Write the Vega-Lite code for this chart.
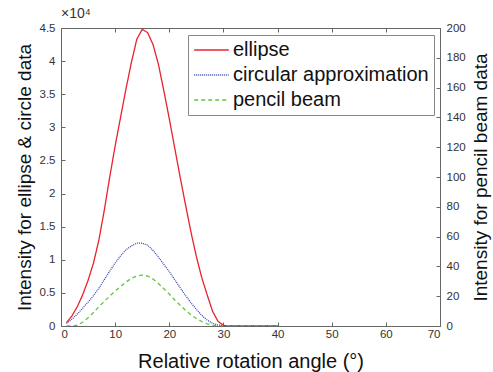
{
  "$schema": "https://vega.github.io/schema/vega-lite/v6.json",
  "autosize": "none",
  "width": 379,
  "height": 298,
  "padding": {"left": 61, "top": 28, "right": 53, "bottom": 46},
  "background": "white",
  "config": {
    "font": "Liberation Sans",
    "view": {"stroke": "#666", "strokeWidth": 1},
    "axis": {"grid": false, "domainColor": "#666", "tickColor": "#666", "labelColor": "#333", "titleColor": "#111", "labelFontSize": 11.5, "titleFontSize": 19, "titleFontWeight": "normal", "tickSize": -4, "labelPadding": 10}
  },
  "title": {"text": "×10⁴", "anchor": "start", "frame": "group", "fontSize": 14, "fontWeight": "normal", "color": "#333", "offset": 1},
  "data": {"values": [
    {"angle": 1, "series": "ellipse", "v": 500}, {"angle": 2, "series": "ellipse", "v": 1500}, {"angle": 3, "series": "ellipse", "v": 2900}, {"angle": 4, "series": "ellipse", "v": 4700}, {"angle": 5, "series": "ellipse", "v": 6900}, {"angle": 6, "series": "ellipse", "v": 9500}, {"angle": 7, "series": "ellipse", "v": 13000}, {"angle": 8, "series": "ellipse", "v": 17500}, {"angle": 9, "series": "ellipse", "v": 22500}, {"angle": 10, "series": "ellipse", "v": 27200}, {"angle": 11, "series": "ellipse", "v": 31500}, {"angle": 12, "series": "ellipse", "v": 35800}, {"angle": 13, "series": "ellipse", "v": 39800}, {"angle": 14, "series": "ellipse", "v": 43300}, {"angle": 15, "series": "ellipse", "v": 44800}, {"angle": 16, "series": "ellipse", "v": 44300}, {"angle": 17, "series": "ellipse", "v": 42500}, {"angle": 18, "series": "ellipse", "v": 39500}, {"angle": 19, "series": "ellipse", "v": 35500}, {"angle": 20, "series": "ellipse", "v": 31300}, {"angle": 21, "series": "ellipse", "v": 26900}, {"angle": 22, "series": "ellipse", "v": 22500}, {"angle": 23, "series": "ellipse", "v": 18300}, {"angle": 24, "series": "ellipse", "v": 14200}, {"angle": 25, "series": "ellipse", "v": 10500}, {"angle": 26, "series": "ellipse", "v": 7300}, {"angle": 27, "series": "ellipse", "v": 4700}, {"angle": 28, "series": "ellipse", "v": 2200}, {"angle": 29, "series": "ellipse", "v": 700}, {"angle": 30, "series": "ellipse", "v": 100}, {"angle": 31, "series": "ellipse", "v": 0}, {"angle": 32, "series": "ellipse", "v": 0}, {"angle": 33, "series": "ellipse", "v": 0}, {"angle": 34, "series": "ellipse", "v": 0}, {"angle": 35, "series": "ellipse", "v": 0}, {"angle": 36, "series": "ellipse", "v": 0}, {"angle": 37, "series": "ellipse", "v": 0}, {"angle": 38, "series": "ellipse", "v": 0}, {"angle": 39, "series": "ellipse", "v": 0}, {"angle": 40, "series": "ellipse", "v": 0},
    {"angle": 1, "series": "circular approximation", "v": 400}, {"angle": 2, "series": "circular approximation", "v": 1000}, {"angle": 3, "series": "circular approximation", "v": 1800}, {"angle": 4, "series": "circular approximation", "v": 2700}, {"angle": 5, "series": "circular approximation", "v": 3600}, {"angle": 6, "series": "circular approximation", "v": 4600}, {"angle": 7, "series": "circular approximation", "v": 5700}, {"angle": 8, "series": "circular approximation", "v": 7000}, {"angle": 9, "series": "circular approximation", "v": 8300}, {"angle": 10, "series": "circular approximation", "v": 9500}, {"angle": 11, "series": "circular approximation", "v": 10600}, {"angle": 12, "series": "circular approximation", "v": 11500}, {"angle": 13, "series": "circular approximation", "v": 12100}, {"angle": 14, "series": "circular approximation", "v": 12500}, {"angle": 15, "series": "circular approximation", "v": 12500}, {"angle": 16, "series": "circular approximation", "v": 12200}, {"angle": 17, "series": "circular approximation", "v": 11400}, {"angle": 18, "series": "circular approximation", "v": 10400}, {"angle": 19, "series": "circular approximation", "v": 9300}, {"angle": 20, "series": "circular approximation", "v": 8200}, {"angle": 21, "series": "circular approximation", "v": 7000}, {"angle": 22, "series": "circular approximation", "v": 5800}, {"angle": 23, "series": "circular approximation", "v": 4600}, {"angle": 24, "series": "circular approximation", "v": 3500}, {"angle": 25, "series": "circular approximation", "v": 2500}, {"angle": 26, "series": "circular approximation", "v": 1600}, {"angle": 27, "series": "circular approximation", "v": 900}, {"angle": 28, "series": "circular approximation", "v": 400}, {"angle": 29, "series": "circular approximation", "v": 150}, {"angle": 30, "series": "circular approximation", "v": 50}, {"angle": 31, "series": "circular approximation", "v": 0}, {"angle": 32, "series": "circular approximation", "v": 0}, {"angle": 33, "series": "circular approximation", "v": 0}, {"angle": 34, "series": "circular approximation", "v": 0}, {"angle": 35, "series": "circular approximation", "v": 0}, {"angle": 36, "series": "circular approximation", "v": 0}, {"angle": 37, "series": "circular approximation", "v": 0}, {"angle": 38, "series": "circular approximation", "v": 0}, {"angle": 39, "series": "circular approximation", "v": 0}, {"angle": 40, "series": "circular approximation", "v": 0},
    {"angle": 1, "series": "pencil beam", "v": 0}, {"angle": 2, "series": "pencil beam", "v": 0}, {"angle": 3, "series": "pencil beam", "v": 0.5}, {"angle": 4, "series": "pencil beam", "v": 2.5}, {"angle": 5, "series": "pencil beam", "v": 5.5}, {"angle": 6, "series": "pencil beam", "v": 9}, {"angle": 7, "series": "pencil beam", "v": 13}, {"angle": 8, "series": "pencil beam", "v": 16.5}, {"angle": 9, "series": "pencil beam", "v": 20}, {"angle": 10, "series": "pencil beam", "v": 23.5}, {"angle": 11, "series": "pencil beam", "v": 26.5}, {"angle": 12, "series": "pencil beam", "v": 29.5}, {"angle": 13, "series": "pencil beam", "v": 32}, {"angle": 14, "series": "pencil beam", "v": 33.5}, {"angle": 15, "series": "pencil beam", "v": 34.2}, {"angle": 16, "series": "pencil beam", "v": 33.5}, {"angle": 17, "series": "pencil beam", "v": 31.5}, {"angle": 18, "series": "pencil beam", "v": 28.5}, {"angle": 19, "series": "pencil beam", "v": 25}, {"angle": 20, "series": "pencil beam", "v": 21.5}, {"angle": 21, "series": "pencil beam", "v": 17.5}, {"angle": 22, "series": "pencil beam", "v": 14}, {"angle": 23, "series": "pencil beam", "v": 10.5}, {"angle": 24, "series": "pencil beam", "v": 7.5}, {"angle": 25, "series": "pencil beam", "v": 5}, {"angle": 26, "series": "pencil beam", "v": 3}, {"angle": 27, "series": "pencil beam", "v": 1.5}, {"angle": 28, "series": "pencil beam", "v": 0.6}, {"angle": 29, "series": "pencil beam", "v": 0.2}, {"angle": 30, "series": "pencil beam", "v": 0}, {"angle": 31, "series": "pencil beam", "v": 0}, {"angle": 32, "series": "pencil beam", "v": 0}, {"angle": 33, "series": "pencil beam", "v": 0}, {"angle": 34, "series": "pencil beam", "v": 0}, {"angle": 35, "series": "pencil beam", "v": 0}, {"angle": 36, "series": "pencil beam", "v": 0}, {"angle": 37, "series": "pencil beam", "v": 0}, {"angle": 38, "series": "pencil beam", "v": 0}, {"angle": 39, "series": "pencil beam", "v": 0}, {"angle": 40, "series": "pencil beam", "v": 0}
  ]},
  "layer": [
    {
      "transform": [{"filter": "datum.series !== 'pencil beam'"}],
      "mark": {"type": "line", "strokeWidth": 1.3, "clip": true},
      "encoding": {
        "x": {"field": "angle", "type": "quantitative", "scale": {"domain": [0, 70], "nice": false}, "axis": {"orient": "bottom", "values": [0, 10, 20, 30, 40, 50, 60, 70], "title": "Relative rotation angle (°)", "titleFontSize": 20, "labelPadding": 6, "titlePadding": 12}},
        "y": {"field": "v", "type": "quantitative", "scale": {"domain": [0, 45000], "nice": false}, "axis": {"orient": "left", "values": [0, 5000, 10000, 15000, 20000, 25000, 30000, 35000, 40000, 45000], "labelExpr": "datum.value / 10000", "title": "Intensity for ellipse & circle data", "titlePadding": 5}},
        "color": {"field": "series", "type": "nominal", "scale": {"domain": ["ellipse", "circular approximation", "pencil beam"], "range": ["#e8232b", "#3a48b0", "#62c640"]}, "legend": {"title": null, "orient": "none", "legendX": 127, "legendY": 7, "symbolType": "stroke", "symbolSize": 1200, "symbolStrokeWidth": 1.5, "labelFontSize": 20, "labelLimit": 400, "labelColor": "#111", "fillColor": "white", "strokeColor": "#888", "padding": 5, "rowPadding": 5, "clipHeight": 20, "labelOffset": 3}},
        "strokeDash": {"field": "series", "type": "nominal", "scale": {"domain": ["ellipse", "circular approximation", "pencil beam"], "range": [[1, 0], [1, 1], [4, 3]]}, "legend": {"title": null, "orient": "none", "legendX": 127, "legendY": 7, "symbolType": "stroke", "symbolSize": 1200, "symbolStrokeWidth": 1.5, "labelFontSize": 20, "labelLimit": 400, "labelColor": "#111", "fillColor": "white", "strokeColor": "#888", "padding": 5, "rowPadding": 5, "clipHeight": 20, "labelOffset": 3}}
      }
    },
    {
      "transform": [{"filter": "datum.series === 'pencil beam'"}],
      "mark": {"type": "line", "strokeWidth": 1.3, "clip": true},
      "encoding": {
        "x": {"field": "angle", "type": "quantitative", "scale": {"domain": [0, 70], "nice": false}, "axis": {"orient": "top", "values": [0, 10, 20, 30, 40, 50, 60, 70], "labels": false, "title": null}},
        "y": {"field": "v", "type": "quantitative", "scale": {"domain": [0, 200], "nice": false}, "axis": {"orient": "right", "values": [0, 20, 40, 60, 80, 100, 120, 140, 160, 180, 200], "title": "Intensity for pencil beam data", "titleAngle": 270, "titleBaseline": "top", "titlePadding": 6}},
        "color": {"field": "series", "type": "nominal"},
        "strokeDash": {"field": "series", "type": "nominal"}
      }
    }
  ],
  "resolve": {"scale": {"y": "independent"}, "axis": {"x": "independent"}}
}
